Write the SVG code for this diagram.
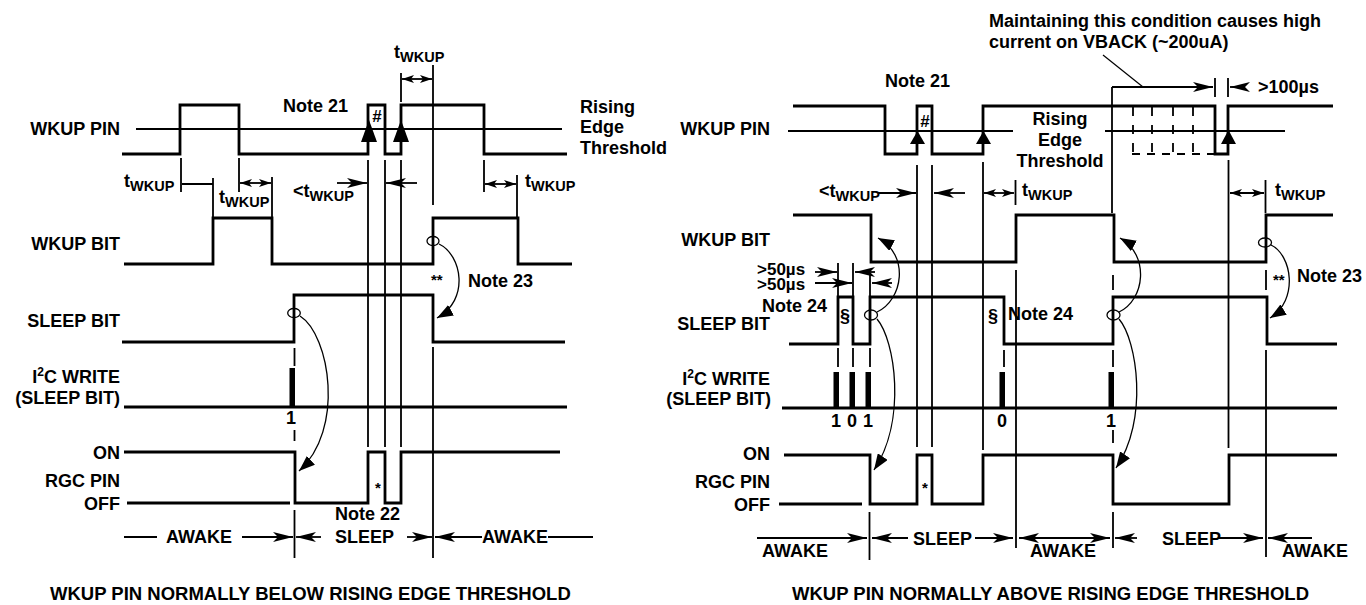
<svg xmlns="http://www.w3.org/2000/svg" width="1366" height="605" viewBox="0 0 1366 605">
<defs>
<style>
.t{font-family:"Liberation Sans",Arial,Helvetica,sans-serif;font-weight:bold;font-size:18px;fill:#000}
.e{text-anchor:end}
.m{text-anchor:middle}
.sub{font-size:14.5px}
.sm{font-size:15px}
.hs{font-size:17px}
.us{font-size:17px}
.ttl{font-family:"Liberation Sans",Arial,Helvetica,sans-serif;font-weight:bold;font-size:18.5px;fill:#000}
.sig{fill:none;stroke:#000;stroke-width:2.8;stroke-linejoin:miter}
.ln{fill:none;stroke:#000;stroke-width:1.8}
.dash{fill:none;stroke:#000;stroke-width:1.8;stroke-dasharray:8,7}
.vdash{fill:none;stroke:#000;stroke-width:1.8;stroke-dasharray:9,9}
.cv{fill:none;stroke:#000;stroke-width:1.3}
.bar{fill:#000}
.ah{fill:#000}
</style>
<marker id="a" viewBox="0 0 20 10" refX="20" refY="5" markerWidth="20" markerHeight="10" markerUnits="userSpaceOnUse" orient="auto-start-reverse"><path d="M0,0 L20,5 L0,10 L5,5 z" fill="#000"/></marker>
<marker id="s" viewBox="0 0 12 8" refX="12" refY="4" markerWidth="12" markerHeight="8" markerUnits="userSpaceOnUse" orient="auto-start-reverse"><path d="M0,0 L12,4 L0,8 L3,4 z" fill="#000"/></marker>
<marker id="c" viewBox="0 0 16 12" refX="16" refY="6" markerWidth="16" markerHeight="12" markerUnits="userSpaceOnUse" orient="auto"><path d="M0,0 L16,6 L0,12 z" fill="#000"/></marker>
</defs>
<rect width="1366" height="605" fill="#fff"/>

<!-- ================= LEFT DIAGRAM ================= -->
<g id="left-labels">
<text class="t e" x="120" y="135">WKUP PIN</text>
<text class="t e" x="120" y="250">WKUP BIT</text>
<text class="t e" x="120" y="327">SLEEP BIT</text>
<text class="t e" x="120" y="383">I<tspan font-size="12" dy="-7">2</tspan><tspan dy="7">C WRITE</tspan></text>
<text class="t e" x="120" y="404">(SLEEP BIT)</text>
<text class="t e" x="120" y="459">ON</text>
<text class="t e" x="120" y="487">RGC PIN</text>
<text class="t e" x="120" y="510">OFF</text>
</g>

<g id="left-wkup-pin">
<path class="ln" d="M136,129 H562"/>
<path class="sig" d="M122,154 H180 V105 H239 V154 H368 V105 H385 V154 H401 V105 H484 V154 H567"/>
<polygon class="ah" points="361,142 369,120 377,142"/>
<polygon class="ah" points="393,142 401,120 409,142"/>
<text class="t hs m" x="377" y="122">#</text>
<text class="t" x="283" y="112">Note 21</text>
<text class="t" x="580" y="113">Rising</text>
<text class="t" x="580" y="133">Edge</text>
<text class="t" x="580" y="154">Threshold</text>
</g>

<g id="left-wkup-bit">
<path class="sig" d="M124,264 H213 V218 H272 V264 H433 V218 H518 V264 H572"/>
<ellipse class="cv" cx="433" cy="241" rx="6" ry="4.5"/>
<text class="t sm" x="431" y="285">**</text>
<text class="t" x="468" y="287">Note 23</text>
</g>

<g id="left-sleep-bit">
<path class="sig" d="M122,342 H294 V295 H433 V342 H565"/>
<ellipse class="cv" cx="294" cy="313" rx="6.3" ry="4.5"/>
</g>

<g id="left-i2c">
<path class="sig" d="M124,407 H567"/>
<rect class="bar" x="289.5" y="368" width="5.5" height="39"/>
<text class="t m" x="291" y="424">1</text>
</g>

<g id="left-rgc">
<path class="sig" d="M124,452 H295 V503 H368 V452 H385 V503 H401 V452 H560"/>
<path class="sig" d="M127,503 H290"/>
<text class="t sm m" x="378" y="493">*</text>
<text class="t" x="335" y="520">Note 22</text>
</g>

<g id="left-timing">
<path class="ln" d="M181,158 V192 M182,184 H213 M213,178 V218"/>
<text class="t" x="124" y="187">t<tspan class="sub" dy="4">WKUP</tspan></text>
<text class="t" x="219" y="203">t<tspan class="sub" dy="4">WKUP</tspan></text>
<path class="ln" d="M239,158 V192 M272,177 V218"/>
<path class="ln" d="M240,183 H271" marker-start="url(#s)" marker-end="url(#s)"/>
<text class="t" x="293" y="197">&lt;t<tspan class="sub" dy="4">WKUP</tspan></text>
<path class="ln" d="M337,183 H367" marker-end="url(#a)"/>
<path class="ln" d="M417,183 H386" marker-end="url(#a)"/>
<path class="ln" d="M368,160 V447 M385,160 V447 M401,160 V447"/>
<path class="ln" d="M401,73 V102 M433,65 V205 M433,347 V558"/>
<path class="ln" d="M402,79 H432" marker-start="url(#s)" marker-end="url(#s)"/>
<text class="t" x="394" y="58">t<tspan class="sub" dy="3.5">WKUP</tspan></text>
<path class="ln" d="M484,160 V192 M517,175 V218"/>
<path class="ln" d="M485,184 H516" marker-start="url(#s)" marker-end="url(#s)"/>
<text class="t" x="525" y="187">t<tspan class="sub" dy="4">WKUP</tspan></text>
<path class="ln" d="M294.5,348 V366 M294.5,430 V441 M294.5,510 V558"/>
</g>

<g id="left-states">
<path class="ln" d="M124,537 H157"/>
<text class="t" x="166" y="543">AWAKE</text>
<path class="ln" d="M242,537 H293" marker-end="url(#a)"/>
<path class="ln" d="M321,537 H296" marker-end="url(#a)"/>
<text class="t" x="335" y="543">SLEEP</text>
<path class="ln" d="M407,537 H432" marker-end="url(#a)"/>
<path class="ln" d="M482,537 H435" marker-end="url(#a)"/>
<text class="t" x="482" y="543">AWAKE</text>
<path class="ln" d="M548,537 H593"/>
</g>

<g id="left-connectors">
<path class="cv" d="M300,316 C330,335 345,430 299,471" marker-end="url(#c)"/>
<path class="cv" d="M439,244 C462,255 470,300 437,318" marker-end="url(#c)"/>
</g>

<text class="ttl" x="50" y="600">WKUP PIN NORMALLY BELOW RISING EDGE THRESHOLD</text>

<!-- ================= RIGHT DIAGRAM ================= -->
<g id="right-labels">
<text class="t e" x="770" y="135">WKUP PIN</text>
<text class="t e" x="770" y="246">WKUP BIT</text>
<text class="t e" x="770" y="330">SLEEP BIT</text>
<text class="t e" x="770" y="385">I<tspan font-size="12" dy="-7">2</tspan><tspan dy="7">C WRITE</tspan></text>
<text class="t e" x="771" y="405">(SLEEP BIT)</text>
<text class="t e" x="770" y="460">ON</text>
<text class="t e" x="770" y="488">RGC PIN</text>
<text class="t e" x="770" y="511">OFF</text>
</g>

<g id="right-note">
<text class="t" x="989" y="27">Maintaining this condition causes high</text>
<text class="t" x="989" y="48">current on VBACK (~200uA)</text>
<path class="cv" d="M1103,55 L1143,87"/>
<path class="ln" d="M1112,87 V213"/>
<path class="ln" d="M1112,87 H1213" marker-end="url(#a)"/>
<path class="ln" d="M1215,78 V97 M1228,78 V97"/>
<path class="ln" d="M1245,87 H1230" marker-end="url(#a)"/>
<text class="t" x="1258" y="93">&gt;100µs</text>
</g>

<g id="right-wkup-pin">
<path class="ln" d="M788,131 H1013 M1105,131 H1285"/>
<path class="dash" d="M1132,154 H1215"/>
<path class="vdash" d="M1133,107 V154 M1152,107 V154 M1173,107 V154 M1193,107 V154"/>
<path class="sig" d="M793,106 H885 V154 H917 V106 H932 V154 H983 V106 H1215 V154 H1228 V106 H1333"/>
<polygon class="ah" points="910,144 917.5,131 925,144"/>
<polygon class="ah" points="976,144 983.5,131 991,144"/>
<polygon class="ah" points="1221,144 1228.5,130 1236,144"/>
<text class="t hs m" x="925" y="127">#</text>
<text class="t" x="885" y="87">Note 21</text>
<text class="t m" x="1060" y="125">Rising</text>
<text class="t m" x="1060" y="146">Edge</text>
<text class="t m" x="1060" y="167">Threshold</text>
</g>

<g id="right-wkup-bit">
<path class="sig" d="M793,215 H871 V262 H1016 V215 H1114 V262 H1266 V215 H1333"/>
<ellipse class="cv" cx="1265" cy="242.5" rx="6.5" ry="4.5"/>
<text class="t sm" x="1273" y="285">**</text>
<text class="t" x="1297" y="282">Note 23</text>
</g>

<g id="right-sleep-bit">
<path class="sig" d="M789,344 H838 V297 H853 V344 H870 V297 H1004 V344 H1113 V297 H1267 V344 H1337"/>
<ellipse class="cv" cx="871" cy="315" rx="6.5" ry="5"/>
<ellipse class="cv" cx="1113.5" cy="315" rx="6.5" ry="5"/>
<text class="t m" x="845" y="322">§</text>
<text class="t m" x="993" y="322">§</text>
<text class="t" x="762" y="312">Note 24</text>
<text class="t" x="1008" y="320">Note 24</text>
<text class="t us" x="757" y="275">&gt;50µs</text>
<text class="t us" x="757" y="290">&gt;50µs</text>
</g>

<g id="right-i2c">
<path class="sig" d="M782,408 H1337"/>
<rect class="bar" x="833.5" y="372" width="5.5" height="36"/>
<rect class="bar" x="849.5" y="372" width="5.5" height="36"/>
<rect class="bar" x="865.5" y="372" width="5.5" height="36"/>
<rect class="bar" x="999.5" y="372" width="5.5" height="36"/>
<rect class="bar" x="1108.5" y="372" width="5.5" height="36"/>
<text class="t m" x="836" y="427">1</text>
<text class="t m" x="852" y="427">0</text>
<text class="t m" x="868" y="427">1</text>
<text class="t m" x="1002" y="427">0</text>
<text class="t m" x="1111" y="427">1</text>
</g>

<g id="right-rgc">
<path class="sig" d="M784,455 H870 V504 H917 V455 H932 V504 H983 V455 H1113 V504 H1229 V455 H1337"/>
<path class="sig" d="M779,504 H862"/>
<text class="t sm m" x="925" y="493">*</text>
</g>

<g id="right-timing">
<text class="t" x="819" y="197">&lt;t<tspan class="sub" dy="3.5">WKUP</tspan></text>
<path class="ln" d="M878,193 H916" marker-end="url(#a)"/>
<path class="ln" d="M965,193 H934" marker-end="url(#a)"/>
<path class="ln" d="M917,165 V447 M932,165 V447 M983,162 V450"/>
<path class="ln" d="M984,193 H1014" marker-start="url(#s)" marker-end="url(#s)"/>
<path class="ln" d="M1015.5,180 V205 M1016,270 V548"/>
<text class="t" x="1022" y="196">t<tspan class="sub" dy="3.5">WKUP</tspan></text>
<path class="ln" d="M1228.5,160 V448"/>
<path class="ln" d="M1230,193 H1264" marker-start="url(#s)" marker-end="url(#s)"/>
<path class="ln" d="M1265.5,180 V213 M1266,350 V557"/>
<path class="ln" d="M1266,270 V290 M1113,275 V290"/>
<text class="t" x="1275" y="196">t<tspan class="sub" dy="3.5">WKUP</tspan></text>
<path class="ln" d="M815,272 H837" marker-end="url(#a)"/>
<path class="ln" d="M875,272 H855" marker-end="url(#a)"/>
<path class="ln" d="M815,283 H852" marker-end="url(#a)"/>
<path class="ln" d="M892,283 H872" marker-end="url(#a)"/>
<path class="ln" d="M838,263 V297 M853,263 V297 M870,275 V297"/>
<path class="ln" d="M838,348 V367 M853,348 V367 M870,348 V367 M1004,350 V367 M1113,350 V367 M1113,430 V443"/>
<path class="ln" d="M869.5,512 V560 M1113,512 V548"/>
</g>

<g id="right-states">
<path class="ln" d="M757,538 H867" marker-end="url(#a)"/>
<text class="t" x="762" y="557">AWAKE</text>
<path class="ln" d="M908,538 H872" marker-end="url(#a)"/>
<text class="t" x="913" y="545">SLEEP</text>
<path class="ln" d="M975,538 H1013" marker-end="url(#a)"/>
<path class="ln" d="M1019,538 H1110" marker-start="url(#a)" marker-end="url(#a)"/>
<text class="t" x="1030" y="557">AWAKE</text>
<path class="ln" d="M1137,538 H1115" marker-end="url(#a)"/>
<text class="t" x="1162" y="545">SLEEP</text>
<path class="ln" d="M1218,538 H1263" marker-end="url(#a)"/>
<path class="ln" d="M1312,538 H1268" marker-end="url(#a)"/>
<text class="t" x="1282" y="557">AWAKE</text>
</g>

<g id="right-connectors">
<path class="cv" d="M877,312 C903,300 910,255 878,238" marker-end="url(#c)"/>
<path class="cv" d="M877,319 C895,340 907,420 874,470" marker-end="url(#c)"/>
<path class="cv" d="M1119,312 C1145,300 1150,255 1120,238" marker-end="url(#c)"/>
<path class="cv" d="M1119,319 C1137,340 1149,420 1116,468" marker-end="url(#c)"/>
<path class="cv" d="M1271,245 C1292,255 1299,300 1270,318" marker-end="url(#c)"/>
</g>

<text class="ttl" x="792" y="600">WKUP PIN NORMALLY ABOVE RISING EDGE THRESHOLD</text>
</svg>
